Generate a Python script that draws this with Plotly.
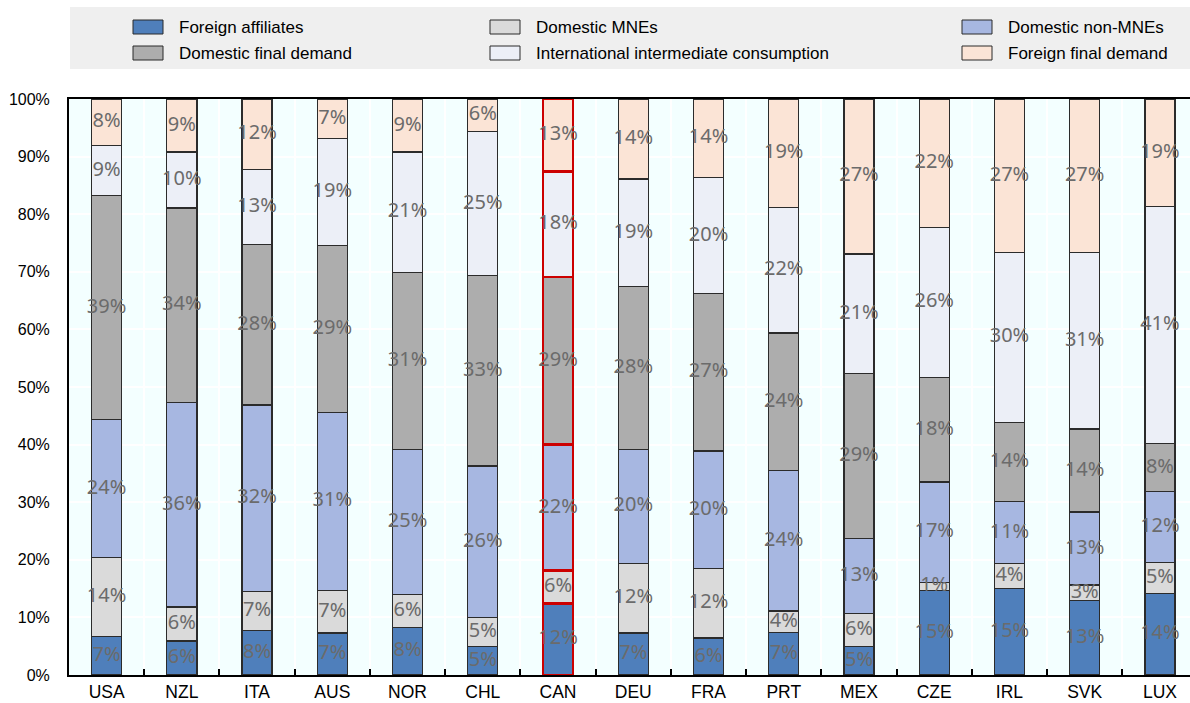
import plotly.graph_objects as go

# Value-added shares by source (percent of total), per country
countries = ["USA", "NZL", "ITA", "AUS", "NOR", "CHL", "CAN", "DEU",
             "FRA", "PRT", "MEX", "CZE", "IRL", "SVK", "LUX"]
foreign_affiliates = [6.7, 5.9, 7.7, 7.3, 8.2, 4.9, 12.4, 7.3, 6.4, 7.4, 5.0, 14.7, 15.0, 12.9, 14.1]
domestic_mnes = [13.7, 5.9, 6.8, 7.4, 5.8, 5.1, 5.7, 12.1, 12.1, 3.7, 5.7, 1.4, 4.3, 2.7, 5.4]
domestic_non_mnes = [23.9, 35.5, 32.4, 30.9, 25.2, 26.3, 21.9, 19.8, 20.4, 24.4, 13.0, 17.4, 10.8, 12.7, 12.3]
domestic_final_demand = [38.9, 33.8, 27.8, 29.0, 30.7, 33.0, 29.1, 28.3, 27.3, 23.9, 28.7, 18.2, 13.7, 14.4, 8.4]
intl_intermediate = [8.7, 9.7, 13.1, 18.6, 20.9, 25.1, 18.3, 18.6, 20.2, 21.8, 20.7, 26.0, 29.6, 30.6, 41.1]
foreign_final_demand = [8.1, 9.2, 12.2, 6.8, 9.2, 5.6, 12.6, 13.9, 13.6, 18.8, 26.9, 22.3, 26.6, 26.7, 18.7]

y_ticks = [0, 10, 20, 30, 40, 50, 60, 70, 80, 90, 100]
highlight = "CAN"

series = [
    ("Foreign affiliates", foreign_affiliates, "#4F7FBB"),
    ("Domestic MNEs", domestic_mnes, "#DADADA"),
    ("Domestic non-MNEs", domestic_non_mnes, "#A7B7E1"),
    ("Domestic final demand", domestic_final_demand, "#ADADAD"),
    ("International intermediate consumption", intl_intermediate, "#ECEFF7"),
    ("Foreign final demand", foreign_final_demand, "#FBE4D6"),
]

line_colors = ["#CC0000" if c == highlight else "#2b2b2b" for c in countries]
line_widths = [2.5 if c == highlight else 1.3 for c in countries]

fig = go.Figure()
base = [0.0] * len(countries)
for name, vals, color in series:
    fig.add_trace(go.Bar(
        x=countries, y=vals, name=name, width=0.4,
        marker=dict(color=color, line=dict(color=line_colors, width=line_widths)),
        showlegend=False, hoverinfo="skip",
    ))
    mids = [b + v / 2 for b, v in zip(base, vals)]
    fig.add_trace(go.Scatter(
        x=countries, y=mids, mode="text",
        text=[f"{v:.0f}%" for v in vals],
        textfont=dict(family="Noto Sans", size=20, color="#6b6b6b"),
        showlegend=False, hoverinfo="skip", cliponaxis=False,
    ))
    base = [b + v for b, v in zip(base, vals)]

# Plot-area geometry in pixels, used to place the hand-built legend
W, H = 1190, 703
L, R, T, B = 69, 1190, 99, 675


def px_x(x):
    return (x - L) / (R - L)


def px_y(y):
    return (B - y) / (B - T)


shapes = [dict(type="rect", xref="paper", yref="paper",
               x0=px_x(70), x1=px_x(1190), y0=px_y(69), y1=px_y(7),
               fillcolor="#EFEFEF", line=dict(width=0), layer="below")]
annotations = []
col_x = [133, 490, 962]
row_top = [20, 46]
for i, (name, _, color) in enumerate(series):
    row, col = divmod(i, 3)
    sx, sy = col_x[col], row_top[row]
    shapes.append(dict(type="rect", xref="paper", yref="paper",
                       x0=px_x(sx), x1=px_x(sx + 30), y0=px_y(sy + 14), y1=px_y(sy),
                       fillcolor=color, line=dict(color="#2b2b2b", width=1)))
    annotations.append(dict(xref="paper", yref="paper", x=px_x(sx + 44), y=px_y(sy + 7.5),
                            text=name, showarrow=False, xanchor="left", yanchor="middle",
                            font=dict(family="Liberation Sans", size=17, color="#000000")))

fig.update_layout(
    width=W, height=H,
    margin=dict(l=L, r=W - R, t=T, b=H - B, pad=0),
    barmode="stack",
    paper_bgcolor="#FFFFFF",
    plot_bgcolor="#F3FFFF",
    shapes=shapes,
    annotations=annotations,
    font=dict(family="Liberation Sans", color="#000000"),
)
fig.update_xaxes(
    type="category", range=[-0.5, 14.4], automargin=False,
    tickson="boundaries", ticks="inside", ticklen=6, tickwidth=1.5, tickcolor="#000000",
    showgrid=True, gridcolor="#FFFFFF", gridwidth=1.5,
    showline=True, linecolor="#000000", linewidth=2, mirror=True,
    tickfont=dict(family="Liberation Sans", size=17.5, color="#000000"),
)
fig.update_yaxes(
    range=[0, 100], tickvals=y_ticks, ticktext=[f"{t}%" for t in y_ticks],
    automargin=False,
    showgrid=True, gridcolor="#FFFFFF", gridwidth=1.5,
    showline=True, linecolor="#000000", linewidth=2,
    ticks="", ticklabelstandoff=14, zeroline=False,
    tickfont=dict(family="Liberation Sans", size=16, color="#000000"),
)

fig.write_html("out.html")
